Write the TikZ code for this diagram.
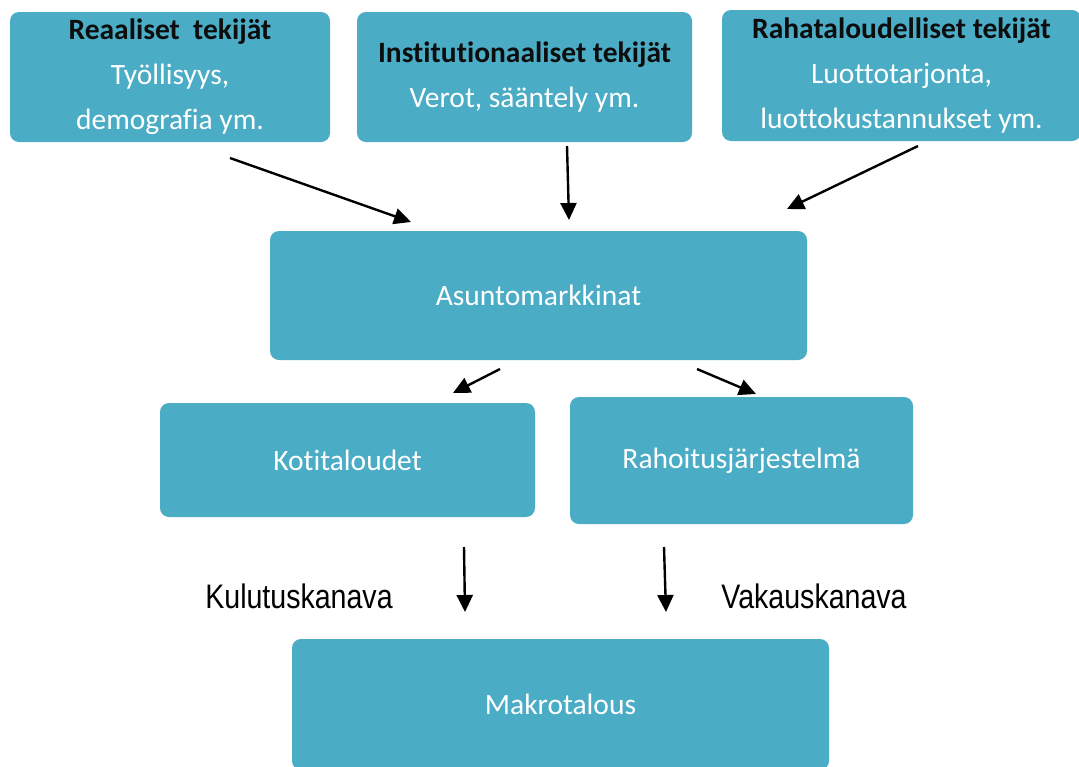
\documentclass[tikz,border=0pt]{standalone}
\usepackage{fontspec}
\setmainfont[Ligatures=CommonOff]{Carlito}
\newfontfamily\arialf{Liberation Sans}
\usetikzlibrary{arrows.meta}
\definecolor{boxc}{HTML}{4BACC6}
\definecolor{darktxt}{HTML}{0D0D0D}
\begin{document}
\begin{tikzpicture}[x=1pt,y=-1pt,
  box/.style={fill=boxc, rounded corners=9pt, inner sep=0pt, align=center, text=white, font=\fontsize{29.5}{45}\selectfont},
  arr/.style={line width=2.4pt, -{Triangle[length=17pt,width=16pt]}},
  lab/.style={font=\arialf\fontsize{34}{40}\selectfont, inner sep=0pt}]
\useasboundingbox (0,0) rectangle (1079,766);
\clip (0,0) rectangle (1079,766);
\fill[white] (0,0) rectangle (1079,766);
% top boxes
\node[box, minimum width=320pt, minimum height=130pt] (real) at (170,77)
  {\textcolor{darktxt}{\bfseries Reaaliset\ \ tekijät}\\Työllisyys,\\demografia ym.};
\node[box, minimum width=335pt, minimum height=130pt] (inst) at (524.5,77)
  {\textcolor{darktxt}{\bfseries Institutionaaliset tekijät}\\Verot, sääntely ym.};
\node[box, minimum width=359pt, minimum height=131pt] (raha) at (901.5,75.5)
  {\textcolor{darktxt}{\bfseries Rahataloudelliset tekijät}\\Luottotarjonta,\\luottokustannukset ym.};
% middle
\node[box, minimum width=537pt, minimum height=129pt] (asunto) at (538.5,295.5) {Asuntomarkkinat};
\node[box, minimum width=375pt, minimum height=114pt] (koti) at (347.5,460) {Kotitaloudet};
\node[box, minimum width=343pt, minimum height=127pt] (rahoitus) at (741.5,460.5) {Rahoitusjärjestelmä};
\node[box, minimum width=537pt, minimum height=131pt] (makro) at (560.5,704.5) {Makrotalous};
% labels
\node[lab] (kulutus) at (299,596) {\scalebox{0.84}[1]{Kulutuskanava}};
\node[lab] (vakaus) at (814,596) {\scalebox{0.84}[1]{Vakauskanava}};
% arrow end points
\coordinate (a1s) at (230,158); \coordinate (a1e) at (411,222);
\coordinate (a2s) at (567,146); \coordinate (a2e) at (569,220);
\coordinate (a3s) at (918,146); \coordinate (a3e) at (787,209);
\coordinate (a4s) at (500,369); \coordinate (a4e) at (453,393);
\coordinate (a5s) at (697,369); \coordinate (a5e) at (756,394);
\coordinate (a6s) at (464,547); \coordinate (a6e) at (465,612);
\coordinate (a7s) at (664,547); \coordinate (a7e) at (666,612);
\draw[arr] (a1s) -- (a1e);
\draw[arr] (a2s) -- (a2e);
\draw[arr] (a3s) -- (a3e);
\draw[arr] (a4s) -- (a4e);
\draw[arr] (a5s) -- (a5e);
\draw[arr] (a6s) -- (a6e);
\draw[arr] (a7s) -- (a7e);
\end{tikzpicture}
\end{document}
